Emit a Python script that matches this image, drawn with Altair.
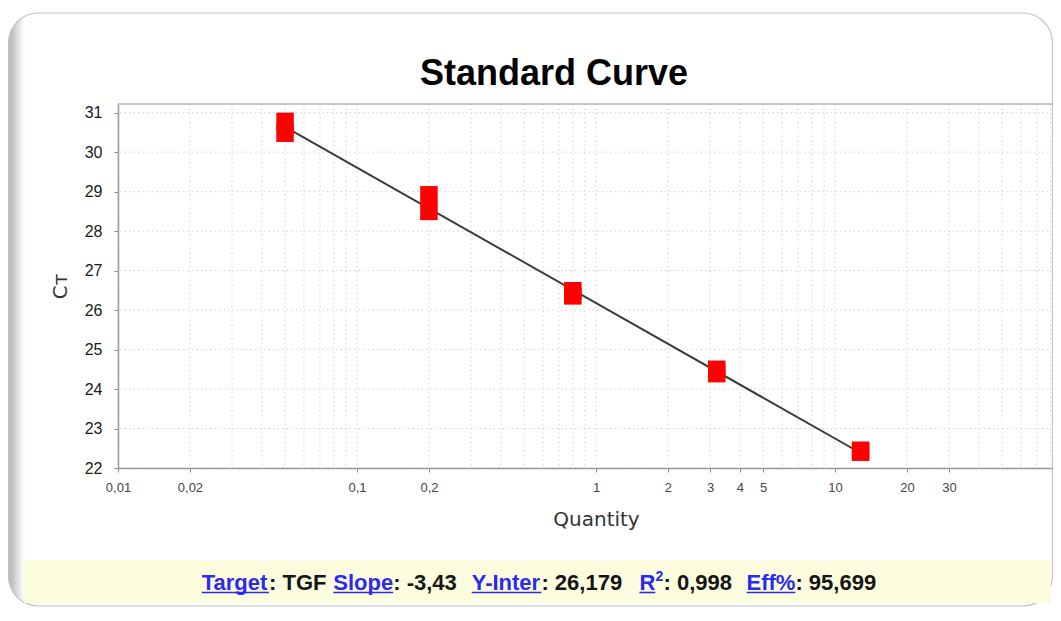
import altair as alt
import pandas as pd

# ---------------- data ----------------
QUANTITY = [0.05, 0.05, 0.2, 0.2, 0.8, 0.8, 3.2, 3.2, 12.8, 12.8]
CT = [30.78, 30.48, 28.92, 28.50, 26.49, 26.36, 24.50, 24.39, 22.45, 22.40]

FIT_QUANTITY = [0.05, 12.8]
FIT_CT = [30.64, 22.38]

X_LABEL_VALUES = [0.01, 0.02, 0.1, 0.2, 1, 2, 3, 4, 5, 10, 20, 30]
Y_TICK_VALUES = [22, 23, 24, 25, 26, 27, 28, 29, 30, 31]
X_GRID_VALUES = [0.01, 0.02, 0.03, 0.04, 0.05, 0.06, 0.07, 0.08, 0.09,
                 0.1, 0.2, 0.3, 0.4, 0.5, 0.6, 0.7, 0.8, 0.9,
                 1, 2, 3, 4, 5, 6, 7, 8, 9,
                 10, 20, 30, 40, 50, 60, 70, 80]
Y_GRID_VALUES = [22, 23, 24, 25, 26, 27, 28, 29, 30, 31]

TITLE = "Standard Curve"
X_TITLE = "Quantity"
Y_TITLE = "Cᴛ"

FOOTER_TEXT = ["Target", ": TGF", "Slope", ": -3,43", "Y-Inter", ": 26,179",
               "R", "2", ": 0,998", "Eff%", ": 95,699"]
FOOTER_IS_LINK = [True, False, True, False, True, False, True, True, False, True, False]

# ---------------- layout ----------------
W, H = 935, 364
X_DOMAIN = [0.01, 81.7]
Y_DOMAIN = [22, 31.22]

FOOTER_X = [83.7, 151, 215.3, 275.2, 353.7, 423.4, 521.4, 537.5, 545.5, 628.5, 677.4]
FOOTER_SUPER = [False, False, False, False, False, False, False, True, False, False, False]
UNDERLINES = [(83.7, 150.9), (215.3, 275.2), (353.7, 423.4), (521.4, 537.3), (628.5, 677.4)]

LINK_BLUE = "#2b2bef"
TEXT_BLACK = "#151515"

xscale = alt.Scale(type="log", domain=X_DOMAIN, nice=False)
yscale = alt.Scale(domain=Y_DOMAIN, nice=False, zero=False)

x_axis = alt.Axis(
    values=X_LABEL_VALUES,
    labelExpr="replace(toString(datum.value), '.', ',')",
    grid=False, tickSize=4, tickColor="#888888", tickWidth=1,
    domainColor="#9a9a9a", domainWidth=1.5,
    labelFont="Liberation Sans", labelFontSize=13, labelColor="#444444",
    labelPadding=9, labelFlush=False, labelOverlap=False,
    title=X_TITLE, titleFont="DejaVu Sans", titleFontSize=20,
    titleFontWeight="normal", titleColor="#333333",
    titleX=478, titleY=57, titleBaseline="alphabetic", titleAlign="center",
    zindex=1,
)
y_axis = alt.Axis(
    values=Y_TICK_VALUES, grid=False, tickSize=4, tickColor="#888888",
    domainColor="#9a9a9a", domainWidth=1.5,
    labelFont="Liberation Sans", labelFontSize=16, labelColor="#1a1a1a",
    labelPadding=12, labelOverlap=False,
    title=Y_TITLE, titleFont="DejaVu Sans", titleFontSize=20,
    titleFontWeight="normal", titleColor="#333333",
    titleX=-52, titleY=182, titleAngle=270, titleAlign="center",
    titleBaseline="alphabetic",
    zindex=1,
)

one = pd.DataFrame({"k": [0]})
pts_df = pd.DataFrame({"q": QUANTITY, "ct": CT})
fit_df = pd.DataFrame({"q": FIT_QUANTITY, "ct": FIT_CT})

shadow = alt.LinearGradient(
    gradient="linear", x1=0, x2=1, y1=0, y2=0,
    stops=[
        alt.GradientStop(offset=0, color="#b8b8b8"),
        alt.GradientStop(offset=0.004, color="#c4c4c4"),
        alt.GradientStop(offset=0.013, color="#f5f5f5"),
        alt.GradientStop(offset=0.016, color="#ffffff"),
        alt.GradientStop(offset=1, color="#ffffff"),
    ],
)

frame = alt.Chart(one).mark_rect(
    fill=shadow, stroke="#c4c4c4", strokeWidth=1.2, cornerRadius=30
).encode(x=alt.value(-109.5), x2=alt.value(934.5), y=alt.value(-91), y2=alt.value(502))

band = alt.Chart(one).mark_rect(fill="#fcfcde").encode(
    x=alt.value(-94), x2=alt.value(933), y=alt.value(456), y2=alt.value(499)
)

grid_x = alt.Chart(pd.DataFrame({"gx": X_GRID_VALUES})).mark_rule(
    color="#d2d2d2", strokeDash=[1.5, 3], strokeWidth=1
).encode(x=alt.X("gx:Q", scale=xscale, axis=x_axis))

grid_y = alt.Chart(pd.DataFrame({"gy": Y_GRID_VALUES})).mark_rule(
    color="#d2d2d2", strokeDash=[1.5, 3], strokeWidth=1
).encode(y=alt.Y("gy:Q", scale=yscale, axis=y_axis))

top_border = alt.Chart(one).mark_rule(color="#b5b5b5", strokeWidth=1.5).encode(
    x=alt.value(0), x2=alt.value(W), y=alt.value(0)
)

fit_line = alt.Chart(fit_df).mark_line(color="#3a3a3a", strokeWidth=2).encode(
    x=alt.X("q:Q", scale=xscale, axis=x_axis),
    y=alt.Y("ct:Q", scale=yscale, axis=y_axis),
)

points = alt.Chart(pts_df).mark_square(size=306, color="#ff0000", opacity=1).encode(
    x=alt.X("q:Q", scale=xscale, axis=x_axis),
    y=alt.Y("ct:Q", scale=yscale, axis=y_axis),
)

title = alt.Chart(one).mark_text(
    font="Liberation Sans", fontSize=36, fontWeight="bold", color="#000000",
    align="center", baseline="alphabetic"
).encode(x=alt.value(436), y=alt.value(-19), text=alt.value(TITLE))

footer_layers = []
for txt, link, fx, sup in zip(FOOTER_TEXT, FOOTER_IS_LINK, FOOTER_X, FOOTER_SUPER):
    footer_layers.append(
        alt.Chart(one).mark_text(
            font="Liberation Sans", fontSize=14 if sup else 22, fontWeight="bold",
            color=LINK_BLUE if link else TEXT_BLACK,
            align="left", baseline="alphabetic",
        ).encode(x=alt.value(fx), y=alt.value(477 if sup else 486), text=alt.value(txt))
    )
for ux1, ux2 in UNDERLINES:
    footer_layers.append(
        alt.Chart(one).mark_rule(color=LINK_BLUE, strokeWidth=1.6).encode(
            x=alt.value(ux1), x2=alt.value(ux2), y=alt.value(488.5)
        )
    )

chart = alt.layer(
    frame, band, grid_x, grid_y, top_border, fit_line, points, title, *footer_layers
).properties(
    width=W, height=H,
    autosize=alt.AutoSizeParams(type="none"),
    padding={"left": 110, "top": 96, "right": 0, "bottom": 140},
    background="white",
).configure_view(stroke="transparent")

chart.save("out.html", embed_options={"renderer": "svg", "actions": False})
